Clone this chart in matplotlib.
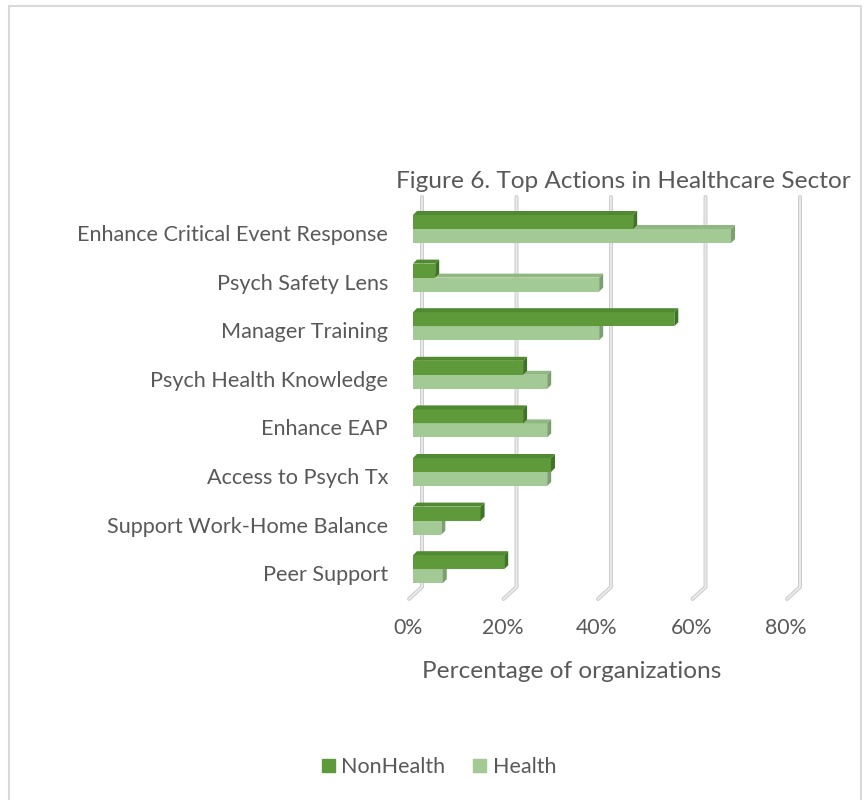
import matplotlib
matplotlib.use("Agg")
import matplotlib.pyplot as plt
from matplotlib.patches import Polygon, Rectangle, Patch
import numpy as np

# veri
kategoriler = ["Enhance Critical Event Response", "Psych Safety Lens", "Manager Training",
               "Psych Health Knowledge", "Enhance EAP", "Access to Psych Tx",
               "Support Work-Home Balance", "Peer Support"]
nonhealth = [0.466, 0.047, 0.553, 0.233, 0.233, 0.292, 0.143, 0.193]
health = [0.673, 0.394, 0.394, 0.284, 0.284, 0.284, 0.06, 0.063]
x_ticks = [0, 0.2, 0.4, 0.6, 0.8]
x_labels = ["0%", "20%", "40%", "60%", "80%"]

plt.rcParams['font.family'] = ['Lato', 'DejaVu Sans']
text_col = "#595959"

W, H = 865, 800
fig = plt.figure(figsize=(W / 100, H / 100), dpi=100)

# cerceve
fig.add_artist(Rectangle((9 / W, -0.01), 852 / W, 1 - 6 / H + 0.01, transform=fig.transFigure,
                         fill=False, edgecolor="#d9d9d9", linewidth=1.5))

# cizim alani: piksel 413..791 yatay, 190..600 dikey
ax = fig.add_axes([413 / W, (H - 600) / H, 378 / W, 410 / H])
ax.set_xlim(0, 0.8)
ax.set_ylim((600 - 235) / 48.6, (190 - 235) / 48.6)
ax.axis('off')

px_x = 0.8 / 378   # bir pikselin x verisi karsiligi
px_y = 1 / 48.6    # bir pikselin y verisi karsiligi


def py(p):
    return (p - 235) / 48.6


# arka duvar cizgileri
for t in x_ticks:
    xb = t + 9 * px_x
    xs = [xb, xb, xb - 13 * px_x]
    ys = [py(197), py(587), py(599)]
    ax.plot(xs, ys, color="#cbcbcb", lw=2.8, solid_capstyle="round", zorder=0, clip_on=False)
    ax.plot(xs, ys, color="#ececec", lw=1.3, solid_capstyle="round", zorder=0.5, clip_on=False)

# 3 boyutlu cubuklar
y = np.arange(len(kategoriler))
h = 14 * px_y
d = 4
series = [
    (health, 1, "#a3c995", "#8fb882", "#7c9f6f", 2),
    (nonhealth, -13, "#5e9a3a", "#4f8a30", "#3f7326", 3),
]
for vals, off, front, top, side, z in series:
    yc = y + off * px_y
    ax.barh(yc, vals, height=h, color=front, zorder=z)
    for v, c in zip(vals, yc):
        yt, yb = c - h / 2, c + h / 2
        ax.add_patch(Polygon([(0, yt), (v, yt), (v + d * px_x, yt - d * px_y), (d * px_x, yt - d * px_y)],
                             closed=True, facecolor=top, edgecolor="none", zorder=z))
        ax.add_patch(Polygon([(v, yt), (v + d * px_x, yt - d * px_y), (v + d * px_x, yb - d * px_y), (v, yb)],
                             closed=True, facecolor=side, edgecolor="none", zorder=z))

# kategori etiketleri
for i, k in enumerate(kategoriler):
    ax.text(-25 * px_x, i, k, ha="right", va="center", fontsize=15.6, color=text_col)

# x ekseni etiketleri
for t, lab in zip(x_ticks, x_labels):
    ax.text(t - 5 * px_x, py(628), lab, ha="center", va="center", fontsize=15.3, color=text_col)

fig.text(572 / W, 1 - 672 / H, "Percentage of organizations", ha="center", va="center",
         fontsize=17.6, color=text_col)
fig.text(623 / W, 1 - 182 / H, "Figure 6. Top Actions in Healthcare Sector", ha="center", va="center",
         fontsize=17.6, color=text_col)

handles = [Patch(color="#5e9a3a", label="NonHealth"), Patch(color="#a3c995", label="Health")]
fig.legend(handles=handles, loc="center", bbox_to_anchor=(439 / W, 1 - 767 / H), ncol=2, frameon=False,
           fontsize=15.5, handlelength=0.6, handleheight=0.6, handletextpad=0.3, columnspacing=1.3,
           labelcolor=text_col)

fig.savefig("out.png", dpi=100)
